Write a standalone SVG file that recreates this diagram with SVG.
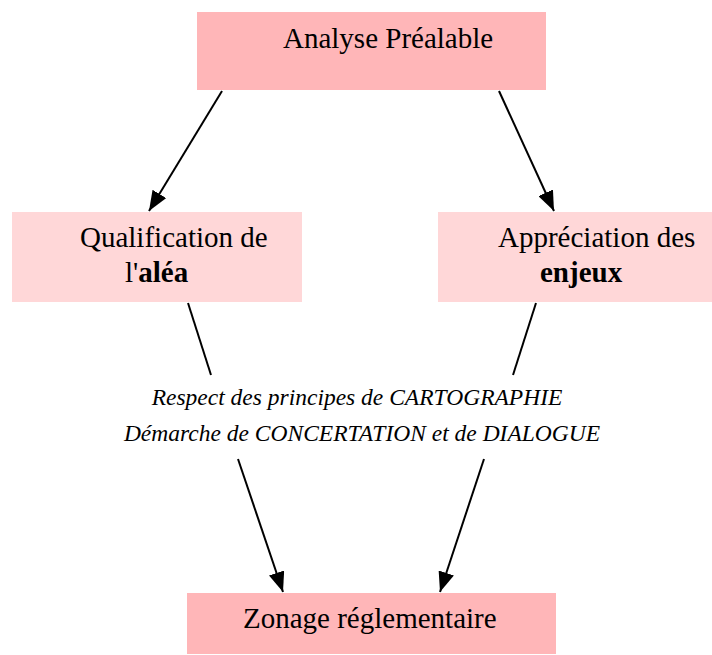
<svg xmlns="http://www.w3.org/2000/svg" width="712" height="655" viewBox="0 0 712 655">
<style>
text{font-family:"Liberation Serif","Times New Roman",serif;fill:#000}
.t{font-size:29px}
.i{font-size:23.5px;font-style:italic}
.dark{fill:#FFB6B8}
.light{fill:#FFD7D8}
.c{stroke:#000;stroke-width:2;fill:none}
</style>
<defs>
<marker id="ah2" viewBox="0 0 20 16" refX="20" refY="8" markerWidth="20" markerHeight="16" markerUnits="userSpaceOnUse" orient="auto">
<path d="M0,0 L20,8 L0,16 z" fill="#000"/>
</marker>
</defs>
<rect width="712" height="655" fill="#fff"/>
<g id="connectors">
<line class="c" x1="222" y1="91" x2="149" y2="211" marker-end="url(#ah2)"/>
<line class="c" x1="499" y1="91" x2="554" y2="211" marker-end="url(#ah2)"/>
<line class="c" x1="188" y1="303" x2="211" y2="375"/>
<line class="c" x1="536" y1="303" x2="513" y2="375"/>
<line class="c" x1="238" y1="459" x2="283" y2="592" marker-end="url(#ah2)"/>
<line class="c" x1="484" y1="459" x2="440" y2="592" marker-end="url(#ah2)"/>
</g>
<g id="analyse">
<rect class="dark" x="197" y="12" width="349" height="78"/>
<text class="t" x="283" y="48">Analyse Préalable</text>
</g>
<g id="qualification">
<rect class="light" x="12" y="212" width="290" height="90"/>
<text class="t" x="80" y="247">Qualification de</text>
<text class="t" x="125" y="282">l'<tspan font-weight="bold">aléa</tspan></text>
</g>
<g id="appreciation">
<rect class="light" x="438" y="212" width="274" height="90"/>
<text class="t" x="498" y="247">Appréciation des</text>
<text class="t" x="540" y="282" font-weight="bold">enjeux</text>
</g>
<g id="principes">
<text class="i" x="357" y="405" text-anchor="middle">Respect des principes de CARTOGRAPHIE</text>
<text class="i" x="362" y="441" text-anchor="middle">Démarche de CONCERTATION et de DIALOGUE</text>
</g>
<g id="zonage">
<rect class="dark" x="187" y="593" width="369" height="61"/>
<text class="t" x="243" y="628">Zonage réglementaire</text>
</g>
</svg>
